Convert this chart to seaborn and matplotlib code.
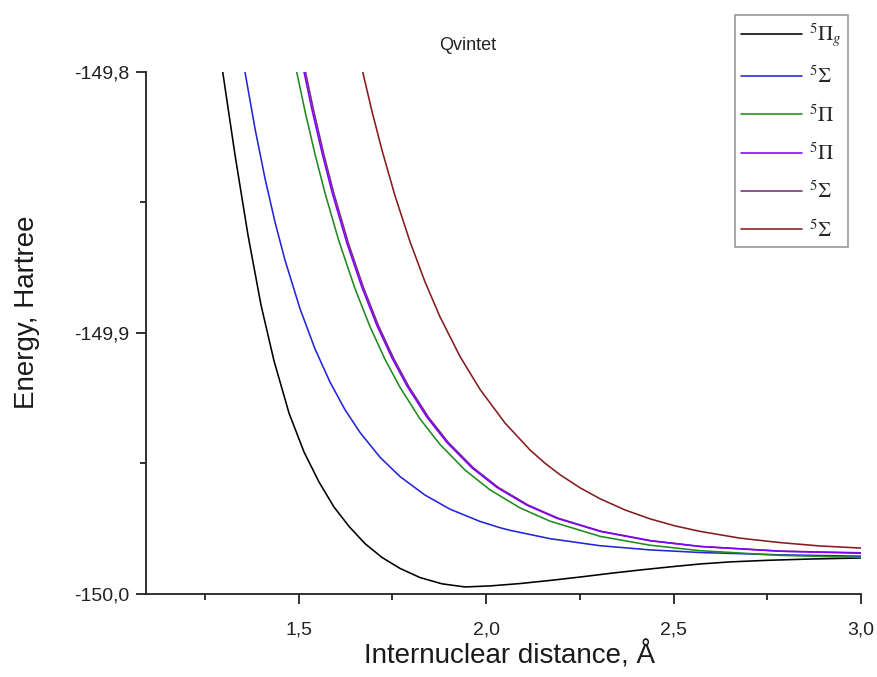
import matplotlib
matplotlib.use("Agg")
import matplotlib.pyplot as plt
import seaborn as sns
import pandas as pd
from matplotlib.ticker import FixedLocator, FuncFormatter

# ---- data ----
labels = [r"$^5\Pi_g$", r"$^5\Sigma$", r"$^5\Pi$", r"$^5\Pi$", r"$^5\Sigma$", r"$^5\Sigma$"]
colors = ["#000000", "#2424d8", "#1f8a1f", "#8000ff", "#7a2a82", "#851c1c"]

pig_x = [1.2979, 1.3307, 1.3653, 1.4000, 1.4347, 1.4747, 1.5147, 1.5547, 1.5947, 1.6347,
         1.6773, 1.7227, 1.7707, 1.8240, 1.8827, 1.9440, 2.0107, 2.0907, 2.1707, 2.2507,
         2.3307, 2.4107, 2.4987, 2.5707, 2.6507, 2.7493, 2.8640, 3.0000]
pig_y = [-149.8000, -149.8318, -149.8625, -149.8893, -149.9107, -149.9307, -149.9456, -149.9571,
         -149.9667, -149.9741, -149.9807, -149.9860, -149.9902, -149.9937, -149.9961, -149.9973,
         -149.9969, -149.9960, -149.9948, -149.9935, -149.9921, -149.9908, -149.9895, -149.9885,
         -149.9877, -149.9871, -149.9866, -149.9862]

sig1_x = [1.3573, 1.3840, 1.4107, 1.4373, 1.4640, 1.5040, 1.5440, 1.5840, 1.6240, 1.6640,
          1.7173, 1.7707, 1.8373, 1.9040, 1.9840, 2.0373, 2.0640, 2.1707, 2.3040, 2.4373,
          2.5707, 2.7840, 3.0000]
sig1_y = [-149.8000, -149.8217, -149.8408, -149.8575, -149.8721, -149.8907, -149.9061, -149.9188,
          -149.9294, -149.9381, -149.9476, -149.9550, -149.9621, -149.9675, -149.9722, -149.9746,
          -149.9756, -149.9788, -149.9815, -149.9831, -149.9841, -149.9850, -149.9855]

pi1_x = [1.4952, 1.5173, 1.5440, 1.5707, 1.6080, 1.6507, 1.6907, 1.7307, 1.7707, 1.8240,
         1.8773, 1.9440, 2.0107, 2.0907, 2.1707, 2.3040, 2.4373, 2.5707, 2.7840, 3.0000]
pi1_y = [-149.8000, -149.8150, -149.8315, -149.8464, -149.8649, -149.8830, -149.8976, -149.9101,
         -149.9208, -149.9329, -149.9427, -149.9525, -149.9601, -149.9670, -149.9721, -149.9779,
         -149.9813, -149.9834, -149.9852, -149.9860]

pi2_x = [1.5147, 1.5360, 1.5627, 1.5893, 1.6293, 1.6693, 1.7093, 1.7493, 1.7893, 1.8427,
         1.8960, 1.9627, 2.0293, 2.1093, 2.1893, 2.3040, 2.4373, 2.5707, 2.7840, 3.0000]
pi2_y = [-149.8000, -149.8145, -149.8310, -149.8460, -149.8657, -149.8826, -149.8972, -149.9096,
         -149.9203, -149.9323, -149.9420, -149.9517, -149.9592, -149.9660, -149.9710, -149.9760,
         -149.9796, -149.9818, -149.9836, -149.9844]

sig2_x = [1.5187, 1.5400, 1.5667, 1.5933, 1.6333, 1.6733, 1.7133, 1.7533, 1.7933, 1.8467,
          1.9000, 1.9667, 2.0333, 2.1133, 2.1933, 2.3080, 2.4413, 2.5747, 2.7880, 3.0000]
sig2_y = [-149.8000, -149.8145, -149.8310, -149.8460, -149.8657, -149.8826, -149.8972, -149.9096,
          -149.9203, -149.9323, -149.9420, -149.9517, -149.9592, -149.9660, -149.9710, -149.9760,
          -149.9796, -149.9818, -149.9836, -149.9842]

sig3_x = [1.6712, 1.6960, 1.7227, 1.7573, 1.7973, 1.8373, 1.8773, 1.9307, 1.9840, 2.0507,
          2.1173, 2.1573, 2.1973, 2.2507, 2.3040, 2.3707, 2.4373, 2.5040, 2.5707, 2.6773,
          2.7840, 2.8907, 3.0000]
sig3_y = [-149.8000, -149.8151, -149.8300, -149.8474, -149.8650, -149.8804, -149.8938, -149.9090,
          -149.9216, -149.9345, -149.9448, -149.9499, -149.9543, -149.9593, -149.9635, -149.9678,
          -149.9712, -149.9739, -149.9760, -149.9786, -149.9803, -149.9816, -149.9824]

series_x = [pig_x, sig1_x, pi1_x, pi2_x, sig2_x, sig3_x]
series_y = [pig_y, sig1_y, pi1_y, pi2_y, sig2_y, sig3_y]
zorders = [2.2, 2.2, 2.2, 2.3, 2.1, 2.2]

x_major = [1.5, 2.0, 2.5, 3.0]
x_minor = [1.25, 1.75, 2.25, 2.75]
y_major = [-150.0, -149.9, -149.8]
y_minor = [-149.95, -149.85]

title = "Qvintet"
xlabel = "Internuclear distance, Å"
ylabel = "Energy, Hartree"

# ---- plot ----
sns.set_theme(style="white")
plt.rcParams["font.family"] = ["Liberation Sans", "DejaVu Sans"]
plt.rcParams["mathtext.fontset"] = "stix"

W, H = 878, 677
fig = plt.figure(figsize=(W / 100, H / 100), dpi=100)
ax = fig.add_axes([146 / W, 1 - 594 / H, (861 - 146) / W, (594 - 72) / H])

for i in range(len(series_x)):
    df = pd.DataFrame({"x": series_x[i], "y": series_y[i]})
    sns.lineplot(data=df, x="x", y="y", ax=ax, color=colors[i], label=labels[i],
                 linewidth=1.15, estimator=None, sort=False, zorder=zorders[i])

ax.set_xlim(1.0933, 3.0)
ax.set_ylim(-150.0, -149.8)

for s in ["top", "right"]:
    ax.spines[s].set_visible(False)
for s in ["left", "bottom"]:
    ax.spines[s].set_color("#222222")
    ax.spines[s].set_linewidth(1.3)

ax.xaxis.set_major_locator(FixedLocator(x_major))
ax.xaxis.set_minor_locator(FixedLocator(x_minor))
ax.yaxis.set_major_locator(FixedLocator(y_major))
ax.yaxis.set_minor_locator(FixedLocator(y_minor))
fmt = FuncFormatter(lambda v, p: f"{v:.1f}".replace(".", ","))
ax.xaxis.set_major_formatter(fmt)
ax.yaxis.set_major_formatter(fmt)
ax.tick_params(axis="both", which="major", direction="out", length=7, width=1.3,
               colors="#222222", labelsize=14, labelcolor="#222222", pad=13)
ax.tick_params(axis="y", which="major", pad=5)
ax.tick_params(axis="both", which="minor", direction="out", length=4, width=1.3,
               colors="#222222")
ax.tick_params(bottom=True, left=True, which="both")

ax.set_xlabel("")
ax.set_ylabel("")
fig.text(510 / W, 1 - 655 / H, xlabel, ha="center", va="center", fontsize=20, color="#1a1a1a")
fig.text(27 / W, 1 - 312 / H, ylabel, ha="center", va="center", rotation=90,
         fontsize=20, color="#1a1a1a")
fig.text(468 / W, 1 - 45 / H, title, ha="center", va="center", fontsize=13, color="#222222")

leg = ax.legend(loc="upper right", bbox_to_anchor=(848 / W, 1 - 15 / H),
                bbox_transform=fig.transFigure, borderaxespad=0, fontsize=15, frameon=True,
                fancybox=False, framealpha=1, edgecolor="#9a9a9a",
                handlelength=2.9, labelspacing=0.8, borderpad=0.3, handletextpad=0.35)
leg.get_frame().set_linewidth(1.2)

fig.savefig("out.png", dpi=100)
